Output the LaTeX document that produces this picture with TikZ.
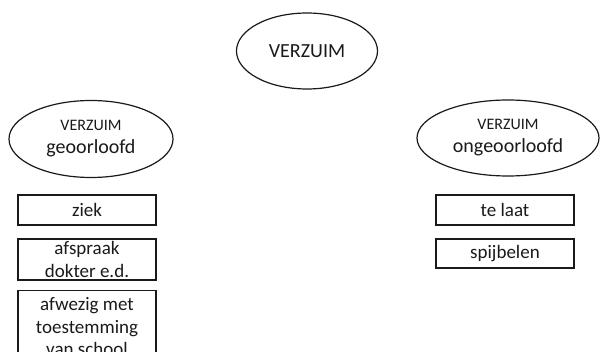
\documentclass[tikz,border=0pt]{standalone}
\usepackage{fontspec}
\setmainfont{Carlito}
\usepackage{xcolor}
\usepackage{tikz}
\usetikzlibrary{shapes.geometric}
\definecolor{ink}{HTML}{1A1A1A}
\tikzset{
  oval/.style={draw=ink, ellipse, line width=1.2pt, inner sep=0pt, text=ink, align=center},
  box/.style={draw=ink, rectangle, line width=1.2pt, inner sep=0pt, text=ink, align=center,
    minimum width=138pt, font=\fontsize{19}{22.5}\selectfont},
  big/.style={font=\fontsize{20}{24}\selectfont},
}
\newcommand{\kop}{\fontsize{16}{18}\selectfont VERZUIM}
\begin{document}
\begin{tikzpicture}[x=1pt,y=-1pt]
  \clip (0,0) rectangle (602,352);
  \fill[white] (0,0) rectangle (602,352);
  % ovals
  \node[oval,big,minimum width=141pt,minimum height=76pt] (top) at (307,51) {VERZUIM};
  \node[oval,big,minimum width=164pt,minimum height=77pt] (geo) at (91,139)
    {\kop\\[-1pt]geoorloofd};
  \node[oval,big,minimum width=182pt,minimum height=76pt] (ongeo) at (508,138)
    {\kop\\[-1pt]ongeoorloofd};
  % left boxes
  \node[box,minimum height=30pt] (ziek) at (87,210) {ziek};
  \node[box,minimum height=41pt] (dokter) at (87,259.5) {afspraak\\dokter e.d.};
  \node[box,minimum height=72pt,anchor=north] (school) at (87,290)
    {afwezig met\\toestemming\\van school};
  % right boxes
  \node[box,minimum height=30pt] (laat) at (505,210) {te laat};
  \node[box,minimum height=29pt] (spijbel) at (505,253.5) {spijbelen};
\end{tikzpicture}
\end{document}
